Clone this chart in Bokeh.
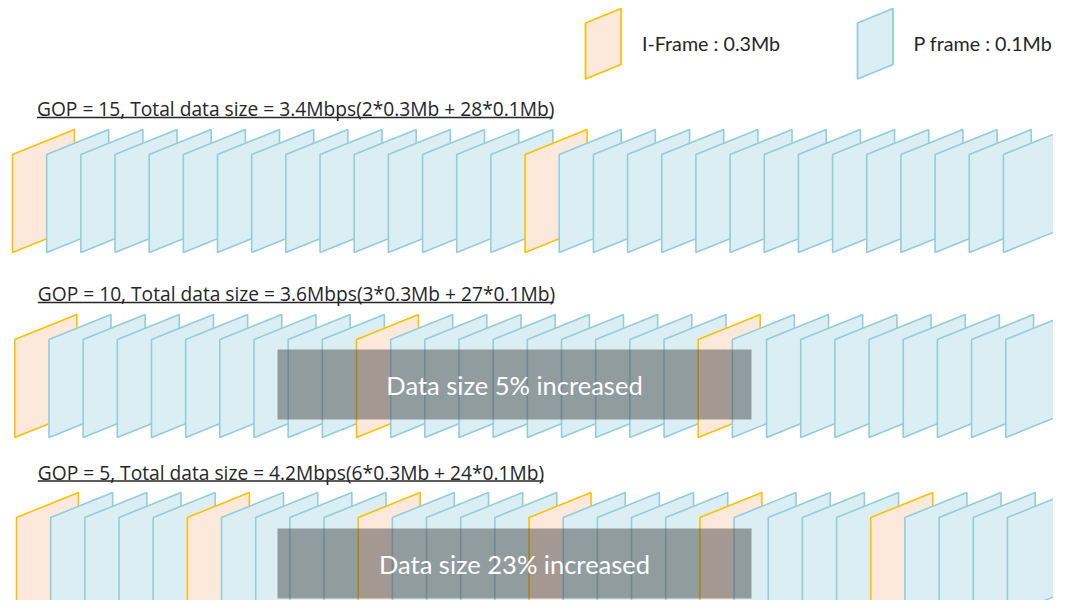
from bokeh.plotting import figure
from bokeh.models import Range1d, ColumnDataSource
from bokeh.core.properties import value
from bokeh.embed import file_html
from bokeh.resources import INLINE

# ---- data ----
gop_sizes = [15, 10, 5]
n_frames = 30
i_frame_mb = 0.3
p_frame_mb = 0.1
titles = [
    "GOP = 15, Total data size = 3.4Mbps(2*0.3Mb + 28*0.1Mb)",
    "GOP = 10, Total data size = 3.6Mbps(3*0.3Mb + 27*0.1Mb)",
    "GOP = 5, Total data size = 4.2Mbps(6*0.3Mb + 24*0.1Mb)",
]
increase_labels = [None, "Data size 5% increased", "Data size 23% increased"]
legend_labels = ["I-Frame : 0.3Mb", "P frame : 0.1Mb"]

# ---- style / layout (pixel coordinates of the picture) ----
I_FILL, I_LINE = "#FCE9DB", "#FFC000"
P_FILL, P_LINE = "#DAEEF3", "#92CDDC"
row_x0 = [12, 14.3, 16]
row_bottom = [252, 437, 615]
step = 34.17
fw, shift, fh = 62, 25, 98
title_y = [107.5, 293, 471.5]
underline_y = [117, 302, 480.5]
title_x = [36.5, 37.3, 37.3]
underline_end = [552, 553, 543]
box_l, box_r = 277, 751
box_tb = [None, (349, 419), (528, 598)]

W, H = 1053, 600
p = figure(width=W, height=H, output_backend="svg", toolbar_location=None,
           x_range=Range1d(0, W), y_range=Range1d(H, 0),
           min_border=0, outline_line_color=None)
p.axis.visible = False
p.grid.visible = False

xs, ys, fills, lines = [], [], [], []
for r, gop in enumerate(gop_sizes):
    for i in range(n_frames):
        is_i = (i % gop == 0)
        x = row_x0[r] + i * step
        yb = row_bottom[r]
        xs.append([x, x, x + fw, x + fw])
        ys.append([yb, yb - fh, yb - fh - shift, yb - shift])
        fills.append(I_FILL if is_i else P_FILL)
        lines.append(I_LINE if is_i else P_LINE)
src = ColumnDataSource(dict(xs=xs, ys=ys, fill=fills, line=lines))
p.patches("xs", "ys", source=src, fill_color="fill", line_color="line", line_width=1.6)

# legend icons
lx = [585, 857]
lw, lshift, lh, lbot = 35.5, 14.5, 56, 78.5
leg_xs = [[x, x, x + lw, x + lw] for x in lx]
leg_ys = [[lbot, lbot - lh, lbot - lh - lshift, lbot - lshift] for _ in lx]
p.patches(leg_xs, leg_ys, fill_color=[I_FILL, P_FILL], line_color=[I_LINE, P_LINE], line_width=1.8)
p.text(x=[641.5, 913], y=[43, 43], text=legend_labels, text_font=value("Lato"),
       text_font_size="19.7px", text_color="#262626", text_baseline="middle")

# titles + underline
p.text(x=title_x, y=title_y, text=titles, text_font=value("Open Sans"),
       text_font_size="19.2px", text_color="#262626", text_baseline="middle")
p.segment(x0=title_x, y0=underline_y, x1=underline_end, y1=underline_y,
          line_color="#262626", line_width=1.3)

# overlay boxes
for r in range(3):
    if increase_labels[r] is None:
        continue
    t, b = box_tb[r]
    p.quad(left=[box_l], right=[box_r], top=[t], bottom=[b], fill_color="#404040",
           fill_alpha=0.47, line_color=None)
    p.text(x=[(box_l + box_r) / 2], y=[(t + b) / 2], text=[increase_labels[r]],
           text_font=value("Lato"), text_font_size="25.5px", text_color="white",
           text_align="center", text_baseline="middle")

open("out.html", "w").write(file_html(p, INLINE))
